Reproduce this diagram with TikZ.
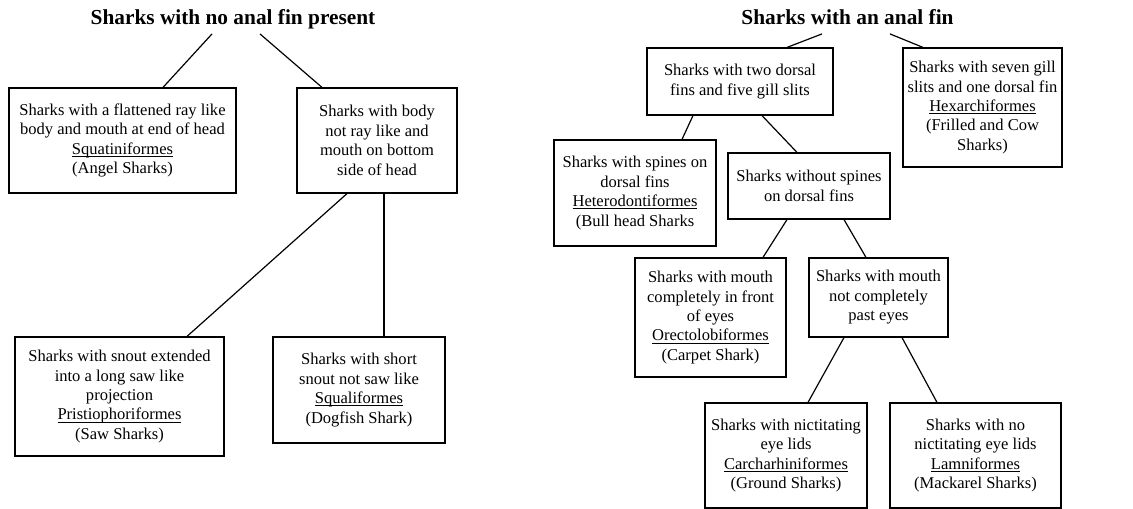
\documentclass[tikz,border=0pt]{standalone}
\usepackage{fontspec}
\setmainfont{Liberation Serif}
\usetikzlibrary{calc}
\newcommand{\orderline}[1]{\underline{\smash{#1}}}

\begin{document}
\begin{tikzpicture}[x=0.75pt, y=-0.75pt,
    box/.style={draw, line width=0.9pt, align=center, inner sep=1pt,
        font=\fontsize{12.4}{14.6}\selectfont},
    heading/.style={font=\fontsize{16}{19}\selectfont\bfseries,
        inner sep=4pt, text depth=0.25em, anchor=base},
    link/.style={line width=0.9pt}]
    \useasboundingbox (0,0) rectangle (1133,509);

    % Draw headings
    \node[heading] (t1) at (233,25) {Sharks with no anal fin present};
    \node[heading] (t2) at (847.5,25) {Sharks with an anal fin};

    % Draw boxes, no anal fin
    \node[box, minimum width=170.25pt, minimum height=78.75pt] (sq) at (122.5,140.5)
        {Sharks with a flattened ray like\\ body and mouth at end of head\\ \orderline{Squatiniformes}\\ (Angel Sharks)};
    \node[box, minimum width=120pt, minimum height=78.75pt] (nr) at (377,140.5)
        {Sharks with body\\ not ray like and\\ mouth on bottom\\ side of head};
    \node[box, minimum width=156.75pt, minimum height=89.25pt] (pr) at (119.5,396.5)
        {Sharks with snout extended\\ into a long saw like\\ projection\\ \orderline{Pristiophoriformes}\\ (Saw Sharks)};
    \node[box, minimum width=129pt, minimum height=79.5pt] (sl) at (359,390)
        {Sharks with short\\ snout not saw like\\ \orderline{Squaliformes}\\ (Dogfish Shark)};

    % Draw boxes, anal fin
    \node[box, minimum width=139.5pt, minimum height=50.25pt] (td) at (740,81.5)
        {Sharks with two dorsal\\ fins and five gill slits};
    \node[box, minimum width=119.25pt, minimum height=89.25pt] (hx) at (982.5,107.5)
        {Sharks with seven gill\\ slits and one dorsal fin\\ \orderline{Hexarchiformes}\\ (Frilled and Cow\\ Sharks)};
    \node[box, minimum width=121.5pt, minimum height=79.5pt] (sp) at (635,193)
        {Sharks with spines on\\ dorsal fins\\ \orderline{Heterodontiformes}\\ (Bull head Sharks};
    \node[box, minimum width=121.5pt, minimum height=49.5pt] (ws) at (809,186)
        {Sharks without spines\\ on dorsal fins};
    \node[box, minimum width=113.25pt, minimum height=89.25pt] (oc) at (710.5,317.5)
        {Sharks with mouth\\ completely in front\\ of eyes\\ \orderline{Orectolobiformes}\\ (Carpet Shark)};
    \node[box, minimum width=104.25pt, minimum height=59.25pt] (np) at (878.5,297.5)
        {Sharks with mouth\\ not completely\\ past eyes};
    \node[box, minimum width=121.5pt, minimum height=78.75pt] (ca) at (786,455.5)
        {Sharks with nictitating\\ eye lids\\ \orderline{Carcharhiniformes}\\ (Ground Sharks)};
    \node[box, minimum width=128.25pt, minimum height=78.75pt] (la) at (975.5,455.5)
        {Sharks with no\\ nictitating eye lids\\ \orderline{Lamniformes}\\ (Mackarel Sharks)};

    % Connect no anal fin tree
    \draw[link] ($(t1.south)+(-21,0)$) -- ($(sq.north)+(40.5,0)$);
    \draw[link] ($(t1.south)+(27,0)$) -- ($(nr.north)+(-55,0)$);
    \draw[link] ($(nr.south)+(-30,0)$) -- ($(pr.north)+(67.5,0)$);
    \draw[link] ($(nr.south)+(7,0)$) -- ($(sl.north)+(25,0)$);

    % Connect anal fin tree
    \draw[link] ($(t2.south)+(-25.5,0)$) -- ($(td.north)+(47,0)$);
    \draw[link] ($(t2.south)+(42.5,0)$) -- ($(hx.north)+(-59.5,0)$);
    \draw[link] ($(td.south)+(-47,0)$) -- ($(sp.north)+(47,0)$);
    \draw[link] ($(td.south)+(22,0)$) -- ($(ws.north)+(-12,0)$);
    \draw[link] ($(ws.south)+(-22,0)$) -- ($(oc.north)+(52.5,0)$);
    \draw[link] ($(ws.south)+(35,0)$) -- ($(np.north)+(-12.5,0)$);
    \draw[link] ($(np.south)+(-34.5,0)$) -- ($(ca.north)+(22,0)$);
    \draw[link] ($(np.south)+(23.5,0)$) -- ($(la.north)+(-38.5,0)$);
\end{tikzpicture}
\end{document}
